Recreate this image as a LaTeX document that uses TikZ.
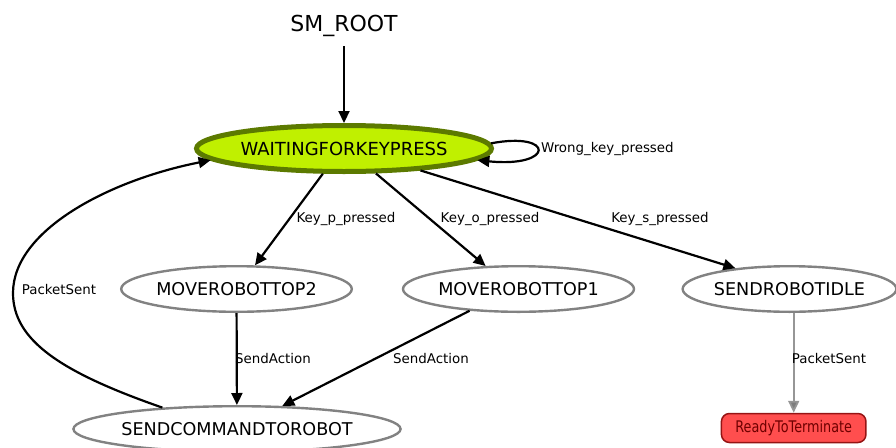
\documentclass[tikz,border=0pt]{standalone}
\usepackage{fontspec}
\setmainfont{DejaVu Sans}
\usetikzlibrary{arrows.meta,shapes.geometric}
\definecolor{waitfill}{RGB}{192,240,0}
\definecolor{waitline}{RGB}{92,122,0}
\definecolor{termfill}{RGB}{255,78,78}
\definecolor{termline}{RGB}{150,20,20}
\definecolor{termtext}{RGB}{110,0,0}
\definecolor{stateline}{RGB}{130,130,130}
\definecolor{edgegray}{RGB}{150,150,150}
\definecolor{tipgray}{RGB}{125,125,125}

\begin{document}
\begin{tikzpicture}[x=1pt, y=-1pt, >={Triangle[length=12pt,width=11pt]}, line width=2.2pt,
    every node/.style={inner sep=0pt},
    state/.style={ellipse, draw=stateline, line width=2.4pt, minimum height=45.6pt, font=\fontsize{17.6}{20}\selectfont},
    lbl/.style={font=\fontsize{13.4}{15}\selectfont}]
    \useasboundingbox (0,0) rectangle (896,447);
    \node[font=\fontsize{22}{26}\selectfont, anchor=base, outer sep=10pt] (root) at (344,31) {SM\_ROOT};
    \node[ellipse, draw=waitline, fill=waitfill, line width=5pt, minimum width=295pt, minimum height=46pt, font=\fontsize{18}{20}\selectfont] (wait) at (344,148.5) {WAITINGFORKEYPRESS};
    \node[state, minimum width=230.6pt] (m2) at (236.5,289) {MOVEROBOTTOP2};
    \node[state, minimum width=231pt] (m1) at (518.5,289) {MOVEROBOTTOP1};
    \node[state, minimum width=209.6pt] (idle) at (789.5,289) {SENDROBOTIDLE};
    \node[state, minimum width=325.6pt] (sc) at (237,429) {SENDCOMMANDTOROBOT};
    \node[draw=termline, fill=termfill, line width=1.5pt, rounded corners=8pt, minimum width=144.5pt, minimum height=29pt, text=termtext, font=\fontsize{16}{18}\selectfont] (ready) at (793.7,428) {\scalebox{0.8}[1]{ReadyToTerminate}};
    % transitions
    \draw[->] (root) -- (wait);
    \draw[->] (wait.2.5) .. controls (555,131) and (555,168) .. (wait.355);
    \draw[->] (wait.230) -- (m2.52);
    \draw[->] (wait.322) -- (m1.145);
    \draw[->] (wait.344) -- (idle.159);
    \draw[->] (m2) -- (sc);
    \draw[->] (m1.204) -- (sc.27);
    \draw[->] (sc.164) .. controls (60,372) and (13,340) .. (13,293) .. controls (13,230) and (110,180) .. (wait.185);
    \draw[-{Triangle[length=12pt,width=11pt,fill=tipgray]}, draw=edgegray, line width=1.8pt] (idle.south -| ready) -- (ready);
    % labels
    \node[lbl, anchor=west] (lwrong) at (540,149) {Wrong\_key\_pressed};
    \node[lbl] (lkp) at (346,219) {Key\_p\_pressed};
    \node[lbl] (lko) at (490,219) {Key\_o\_pressed};
    \node[lbl] (lks) at (660,219) {Key\_s\_pressed};
    \node[lbl] (lsa2) at (273,358) {SendAction};
    \node[lbl] (lsa1) at (431,358) {SendAction};
    \node[lbl] (lps) at (59,289) {PacketSent};
    \node[lbl] (lpsi) at (829,358) {PacketSent};
\end{tikzpicture}
\end{document}
